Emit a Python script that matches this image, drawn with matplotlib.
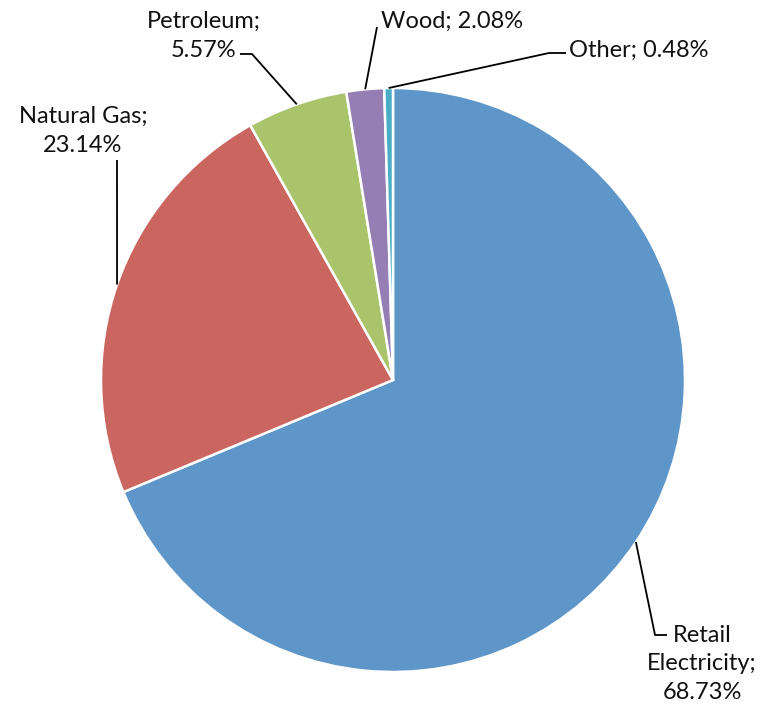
import numpy as np
import matplotlib.pyplot as plt

plt.rcParams['font.family'] = ['Lato', 'DejaVu Sans']

labels = ['Retail\nElectricity;\n68.73%', 'Natural Gas;\n23.14%', 'Petroleum;\n5.57%',
          'Wood; 2.08%', 'Other; 0.48%']
shares = [68.73, 23.14, 5.57, 2.08, 0.48]
colors = ['#5F96CA', '#CB655F', '#A9C46B', '#947EB4', '#4BACC6']

# label text centre and the elbow points of each leader line (pixel space, y down)
text_pos = [(702, 664), (83, 131), (204, 36), (452, 21), (639, 50)]
elbows = [[(655, 635), (667, 635)],
          [(117, 160)],
          [(252, 54), (240, 54)],
          [(377, 27)],
          [(549, 53), (566, 53)]]

W, H = 764, 707
fig = plt.figure(figsize=(W / 100, H / 100), dpi=100)
ax = fig.add_axes([0, 0, 1, 1])

cx, cy, r = 393, H - 380, 292
wedges, _ = ax.pie(shares, colors=colors, startangle=90, counterclock=False,
                   center=(cx, cy), radius=r,
                   wedgeprops=dict(edgecolor='white', linewidth=1.8))

for w, lab, tp, pts in zip(wedges, labels, text_pos, elbows):
    mid = np.deg2rad((w.theta1 + w.theta2) / 2)
    x0, y0 = cx + r * np.cos(mid), cy + r * np.sin(mid)
    xs = [x0] + [p[0] for p in pts]
    ys = [y0] + [H - p[1] for p in pts]
    ax.plot(xs, ys, color='black', lw=1.3, solid_capstyle='butt')
    ax.text(tp[0], H - tp[1], lab, ha='center', va='center', fontsize=17,
            linespacing=1.45, color='#111111')

ax.set_xlim(0, W)
ax.set_ylim(0, H)
ax.set_aspect('auto')
ax.axis('off')

fig.savefig('out.png', dpi=100)
